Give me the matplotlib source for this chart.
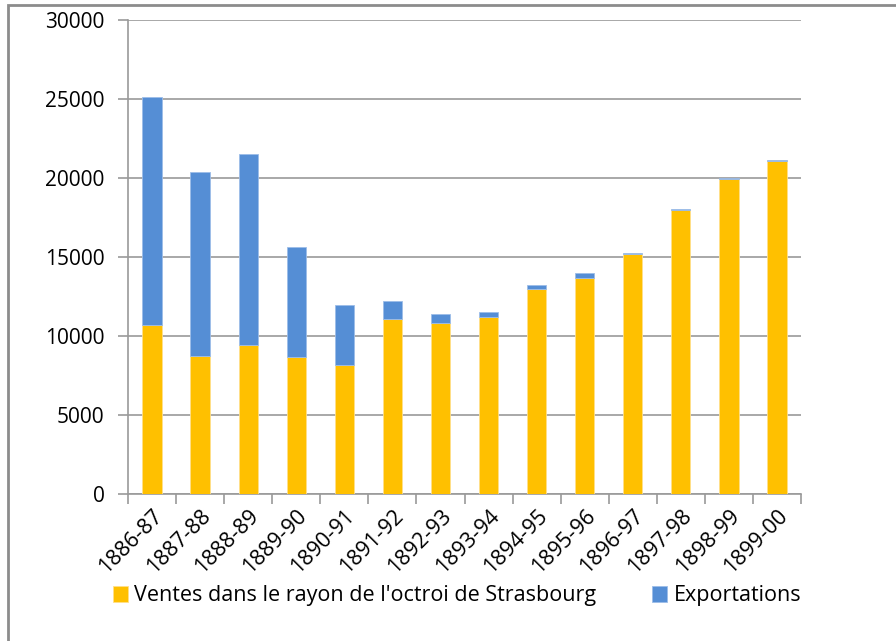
import matplotlib.pyplot as plt
from matplotlib.patches import Rectangle

# Campagnes (années) et tonnages
campagnes = ["1886-87", "1887-88", "1888-89", "1889-90", "1890-91", "1891-92",
             "1892-93", "1893-94", "1894-95", "1895-96", "1896-97", "1897-98",
             "1898-99", "1899-00"]
ventes = [10700, 8750, 9430, 8670, 8170, 11100, 10830, 11230, 12980, 13700,
          15200, 18000, 19950, 21080]
exportations = [14450, 11650, 12090, 6950, 3820, 1120, 550, 270, 270, 310,
                40, 40, 40, 40]

YELLOW = "#FFC000"
BLUE = "#558ED5"
GRID = "#9a9a9a"

plt.rcParams["font.family"] = ["Open Sans", "DejaVu Sans"]

fig = plt.figure(figsize=(8.96, 6.41), dpi=100)
ax = fig.add_axes([128 / 896, 1 - 494 / 641, (801 - 128) / 896, (494 - 20) / 641])

x = list(range(len(campagnes)))
ax.bar(x, ventes, width=0.4, color=YELLOW, edgecolor="#FFE08A", linewidth=0.6,
       label="Ventes dans le rayon de l'octroi de Strasbourg", zorder=3)
ax.bar(x, exportations, width=0.4, bottom=ventes, color=BLUE, edgecolor="#9DBDE8",
       linewidth=0.6, label="Exportations", zorder=3)

ax.set_xlim(-0.5, len(campagnes) - 0.5)
ax.set_ylim(0, 30000)
ax.set_yticks(range(0, 30001, 5000))
ax.yaxis.grid(True, color=GRID, linewidth=1.2, zorder=0)
ax.set_axisbelow(True)

ax.set_xticks(x)
ax.set_xticklabels(campagnes, rotation=45, ha="right", rotation_mode="anchor",
                   fontsize=15.5)
ax.set_xticks([i - 0.5 for i in range(len(campagnes) + 1)], minor=True)
ax.tick_params(axis="x", which="major", length=0, pad=8)
ax.tick_params(axis="x", which="minor", length=7, color=GRID, width=1.2)
ax.tick_params(axis="y", length=7, color=GRID, width=1.2, labelsize=15, pad=10)

for side in ("top", "right"):
    ax.spines[side].set_visible(False)
for side in ("left", "bottom"):
    ax.spines[side].set_color(GRID)
    ax.spines[side].set_linewidth(1.2)

fig.legend(loc="center", bbox_to_anchor=(0.51, 1 - 596 / 641), ncol=2,
           frameon=False, fontsize=15.5, handlelength=0.7, handleheight=0.7,
           handletextpad=0.3, columnspacing=2.6)

# cadre du graphique
fig.patches.append(Rectangle((8 / 896, -0.05), 1.1, 1 - 5 / 641 + 0.05,
                             transform=fig.transFigure, fill=False,
                             edgecolor="#8c8c8c", linewidth=2))

fig.savefig("out.png", dpi=100)
